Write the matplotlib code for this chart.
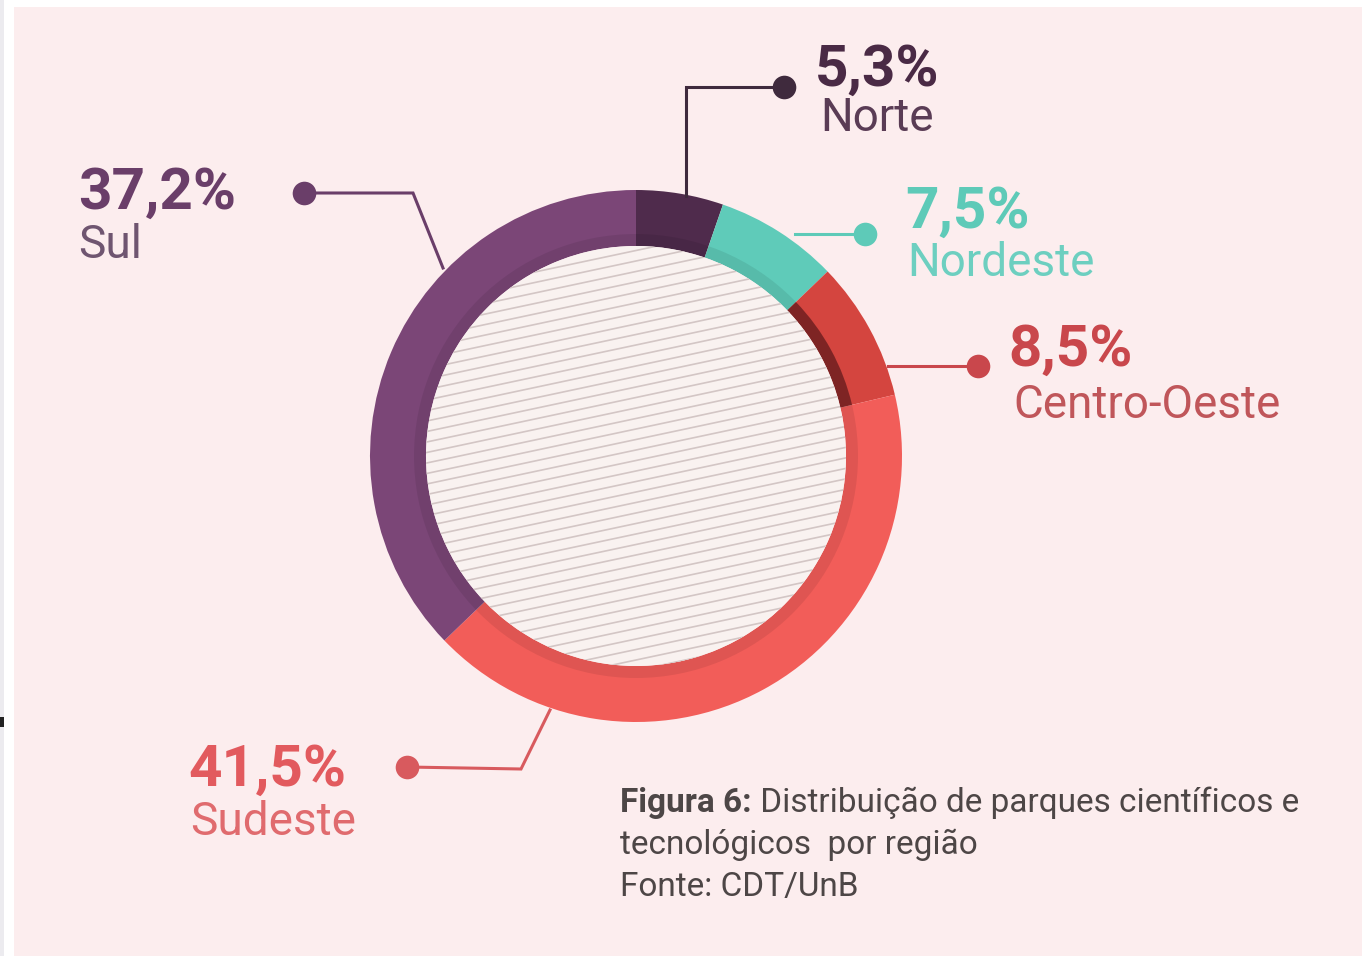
import numpy as np
import matplotlib
matplotlib.use("Agg")
import matplotlib.pyplot as plt
from matplotlib.patches import Rectangle, Circle, Wedge

# data
regions = ["Norte", "Nordeste", "Centro-Oeste", "Sudeste", "Sul"]
shares = [5.3, 7.5, 8.5, 41.5, 37.2]
share_labels = ["5,3%", "7,5%", "8,5%", "41,5%", "37,2%"]
colors = ["#4f2b4c", "#5fcbb9", "#d4453f", "#f25d59", "#7b4677"]
num_colors = ["#4a2a45", "#5ecab8", "#c9474c", "#e25a5e", "#6a3e69"]
name_colors = ["#5a3c55", "#6dcfc0", "#c0565a", "#e06b6e", "#6f5570"]

W, H = 1362, 956
BG = "#fcedee"


def Y(y):
    # image pixel rows -> axes coords (origin bottom)
    return H - y


fig = plt.figure(figsize=(W / 100, H / 100), dpi=100)
fig.patch.set_facecolor("white")
ax = fig.add_axes([0, 0, 1, 1])

cx, cy, r_out, ring_w = 636, 456, 266, 56
r_in = r_out - ring_w

wedges, _ = ax.pie(shares, colors=colors, startangle=90, counterclock=False,
                   center=(cx, Y(cy)), radius=r_out,
                   wedgeprops=dict(width=ring_w, linewidth=0))

ax.set_xlim(0, W)
ax.set_ylim(0, H)
ax.set_aspect("auto")
ax.axis("off")

# background panel
ax.add_patch(Rectangle((14, 0), W - 14, H - 7, facecolor=BG, edgecolor="none", zorder=-10))
ax.add_patch(Rectangle((0, 0), 4, H, facecolor="#ecebef", edgecolor="none", zorder=-10))
ax.add_patch(Rectangle((0, Y(727)), 4, 10, facecolor="#222222", edgecolor="none", zorder=-9))

# inner shadow along the ring (strongest on the Centro-Oeste slice)
ax.add_patch(Wedge((cx, Y(cy)), r_in + 12, 0, 360, width=12, facecolor="black",
                   alpha=0.08, edgecolor="none", zorder=3))
co = wedges[regions.index("Centro-Oeste")]
ax.add_patch(Wedge((cx, Y(cy)), r_in + 12, co.theta1, co.theta2, width=12,
                   facecolor="#3a0a10", alpha=0.5, edgecolor="none", zorder=3))

# striped inner disc
disc = Circle((cx, Y(cy)), r_in, facecolor="#f9f2f0", edgecolor="none", zorder=4)
ax.add_patch(disc)
slope = np.tan(np.radians(12))
xs = np.array([cx - r_in - 10, cx + r_in + 10])
for off in np.arange(-r_in - 120, r_in + 120, 10.5):
    ys = Y(cy) + off + slope * (xs - cx)
    ln, = ax.plot(xs, ys, color="#d3c6c5", lw=1.2, zorder=5, solid_capstyle="butt")
    ln.set_clip_path(disc)

# leader lines
leaders = {
    "Norte": [(784, 87), (686, 87), (686, 196)],
    "Nordeste": [(865, 234), (795, 234)],
    "Centro-Oeste": [(978, 366), (888, 366)],
    "Sudeste": [(407, 767), (521, 769), (550, 710)],
    "Sul": [(304, 193), (413, 193), (443, 268)],
}
line_colors = ["#3f2a3d", "#5ecab8", "#c9474c", "#d85a5e", "#6a3e69"]
for name, lc in zip(regions, line_colors):
    pts = leaders[name]
    px = [p[0] for p in pts]
    py = [Y(p[1]) for p in pts]
    ax.plot(px, py, color=lc, lw=2.2, zorder=2, solid_joinstyle="miter")
    ax.plot(px[0], py[0], "o", color=lc, ms=17, mec="none", zorder=6)

# labels
label_pos = {
    "Norte": (815, 70, 820, 118),
    "Nordeste": (905, 212, 907, 263),
    "Centro-Oeste": (1008, 350, 1013, 405),
    "Sudeste": (188, 770, 190, 822),
    "Sul": (78, 193, 78, 245),
}
for name, lab, nc, tc in zip(regions, share_labels, num_colors, name_colors):
    x1, y1, x2, y2 = label_pos[name]
    ax.text(x1, Y(y1), lab, fontsize=42, fontweight="bold", color=nc,
            family="Roboto", va="center", ha="left", zorder=7)
    ax.text(x2, Y(y2), name, fontsize=33, color=tc,
            family="Roboto", va="center", ha="left", zorder=7)

# caption
cap_color = "#4d4646"
t1 = ax.text(620, Y(812), "Figura 6:", fontsize=24, fontweight="bold", color=cap_color,
             family="Roboto", va="baseline", ha="left")
ax.annotate(" Distribuição de parques científicos e", xy=(1, 0), xycoords=t1,
            fontsize=24, color=cap_color, family="Roboto", va="bottom", ha="left")
ax.text(620, Y(854), "tecnológicos  por região", fontsize=24, color=cap_color,
        family="Roboto", va="baseline", ha="left")
ax.text(620, Y(896), "Fonte: CDT/UnB", fontsize=24, color=cap_color,
        family="Roboto", va="baseline", ha="left")

fig.savefig("out.png", dpi=100, facecolor=fig.get_facecolor())
